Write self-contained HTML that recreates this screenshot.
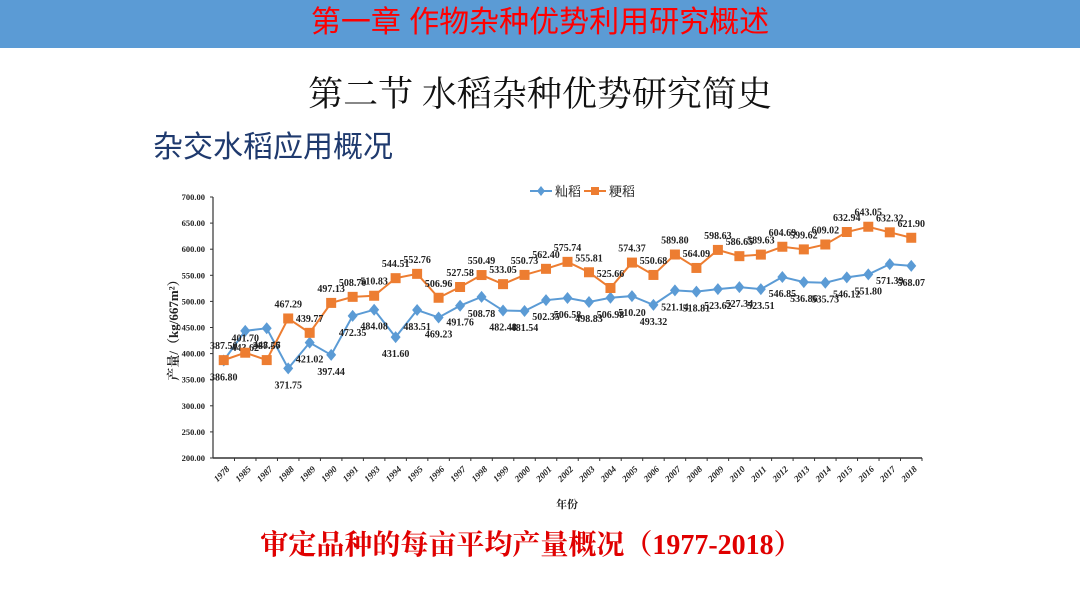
<!DOCTYPE html>
<html><head><meta charset="utf-8"><style>
body{margin:0;width:1080px;height:607px;background:#fff;position:relative;overflow:hidden;font-family:"Liberation Sans","Noto Sans CJK SC",sans-serif}
.hdr{position:absolute;left:0;top:0;width:1080px;height:48px;background:#5b9bd5}
.hdr span{position:absolute;left:0;width:1080px;top:5px;text-align:center;color:#ff0000;font-size:30px;line-height:36px}
.sub{position:absolute;left:0;width:1080px;top:74px;text-align:center;font-family:"Liberation Serif","Noto Serif CJK SC",serif;font-size:35px;line-height:42px;color:#111}
.sec{position:absolute;left:153px;top:130px;font-size:30px;line-height:36px;color:#1f3a6e}
.cap{position:absolute;left:0;width:1062px;top:528px;text-align:center;font-family:"Liberation Serif","Noto Serif CJK SC",serif;font-weight:bold;font-size:28px;line-height:36px;color:#e00000}
svg{position:absolute;left:0;top:0}
</style></head><body>
<div class="hdr"><span>第一章  作物杂种优势利用研究概述</span></div>
<div class="sub">第二节 水稻杂种优势研究简史</div>
<div class="sec">杂交水稻应用概况</div>
<svg id="chart" width="1080" height="607"></svg>
<div class="cap">审定品种的每亩平均产量概况（1977-2018）</div>
<script>
const years=["1978","1985","1987","1988","1989","1990","1991","1993","1994","1995","1996","1997","1998","1999","2000","2001","2002","2003","2004","2005","2006","2007","2008","2009","2010","2011","2012","2013","2014","2015","2016","2017","2018"];
const indica=[386.80,443.62,448.46,371.75,421.02,397.44,472.35,484.08,431.60,483.51,469.23,491.76,508.78,482.48,481.54,502.35,506.58,498.83,506.98,510.20,493.32,521.14,518.81,523.62,527.34,523.51,546.85,536.86,535.73,546.12,551.80,571.39,568.07];
const japonica=[387.50,401.70,387.57,467.29,439.77,497.13,508.70,510.83,544.51,552.76,506.96,527.58,550.49,533.05,550.73,562.40,575.74,555.81,525.66,574.37,550.68,589.80,564.09,598.63,586.65,589.63,604.69,599.62,609.02,632.94,643.05,632.32,621.90];
const yTicks=[200,250,300,350,400,450,500,550,600,650,700];
const svg=document.getElementById('chart');
const NS='http://www.w3.org/2000/svg';
const X0=213,X1=922,Y0=458,Y1=197,YMIN=200,YMAX=700;
const step=(X1-X0)/years.length;
const xs=i=>X0+step*(i+0.5);
const ys=v=>Y0-(v-YMIN)/(YMAX-YMIN)*(Y0-Y1);
function mk(t,a,txt){const e=document.createElementNS(NS,t);for(const k in a)e.setAttribute(k,a[k]);if(txt!==undefined)e.textContent=txt;svg.appendChild(e);return e;}
const serif='"Liberation Serif","Noto Serif CJK SC",serif';
let e=mk('line',{x1:X0,y1:Y1,x2:X0,y2:Y0,stroke:'#333','stroke-width':1.2});

e=mk('line',{x1:X0,y1:Y0,x2:X1,y2:Y0,stroke:'#333','stroke-width':1.5});

yTicks.forEach(v=>{
 const t=mk('text',{x:X0-8,y:ys(v)+3,'text-anchor':'end','font-size':8.5,'font-weight':'bold','font-family':serif,fill:'#222'},v.toFixed(2));
 
 mk('line',{x1:X0-3,y1:ys(v),x2:X0,y2:ys(v),stroke:'#333'});
});
years.forEach((y,i)=>{
 const tk=mk('line',{x1:X0+step*(i+1),y1:Y0,x2:X0+step*(i+1),y2:Y0+3,stroke:'#333'});
 
 const cx=xs(i),cy=Y0+18;
 const t=mk('text',{x:cx,y:cy,'text-anchor':'middle','font-size':9,'font-weight':'bold','font-style':'italic','font-family':serif,fill:'#222',transform:`rotate(-45 ${cx} ${cy})`},y);
 
});
e=mk('text',{x:567,y:508,'text-anchor':'middle','font-size':11,'font-weight':'bold','font-family':serif,fill:'#222'},'年份');

e=mk('text',{x:178,y:327,'text-anchor':'middle','font-size':13,'font-weight':'bold','font-family':serif,fill:'#222',transform:'rotate(-90 178 327)'},'产量/（kg/667m²）');

function series(vals,color,name,square,above){
 const pts=vals.map((v,i)=>xs(i)+','+ys(v)).join(' ');
 const l=mk('polyline',{points:pts,fill:'none',stroke:color,'stroke-width':2});
 
 vals.forEach((v,i)=>{
  const x=xs(i),y=ys(v);
  let m;
  if(square)m=mk('rect',{x:x-5,y:y-5,width:10,height:10,fill:color});
  else m=mk('polygon',{points:`${x},${y-6} ${x+5},${y} ${x},${y+6} ${x-5},${y}`,fill:color});
  
  const t=mk('text',{x:x,y:above?y-11:y+20,'text-anchor':'middle','font-size':10,'font-weight':'bold','font-family':serif,fill:'#222'},v.toFixed(2));
  
 });
}
series(indica,'#5b9bd5','indica',false,false);
series(japonica,'#ed7d31','japonica',true,true);
e=mk('line',{x1:530,y1:191,x2:552,y2:191,stroke:'#5b9bd5','stroke-width':2});

mk('polygon',{points:'541,186 545,191 541,196 537,191',fill:'#5b9bd5'});
e=mk('text',{x:555,y:196,'font-size':13,fill:'#333'},'籼稻');

e=mk('line',{x1:584,y1:191,x2:606,y2:191,stroke:'#ed7d31','stroke-width':2});

mk('rect',{x:591,y:187,width:8,height:8,fill:'#ed7d31'});
e=mk('text',{x:609,y:196,'font-size':13,fill:'#333'},'粳稻');

</script>
</body></html>
